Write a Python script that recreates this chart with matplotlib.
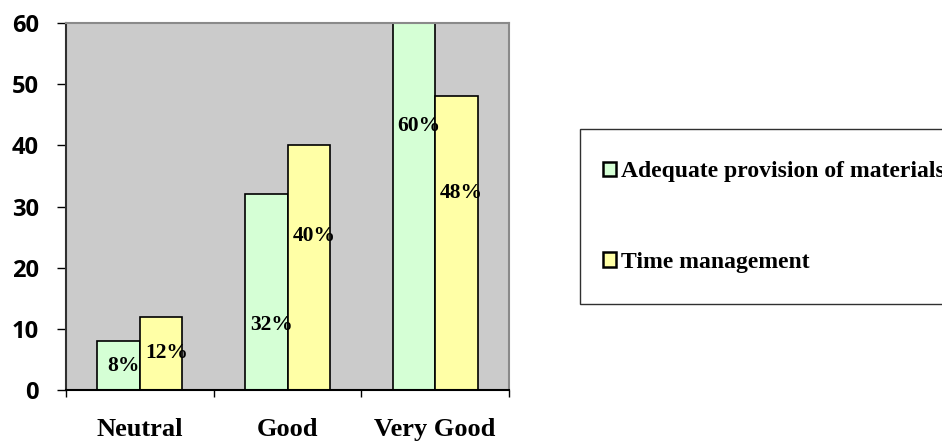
import numpy as np
import matplotlib.pyplot as plt
from matplotlib.patches import Rectangle

categories = ['Neutral', 'Good', 'Very Good']
materials = [8, 32, 60]
time_mgmt = [12, 40, 48]
series_names = ['Adequate provision of materials', 'Time management']
yticks = [0, 10, 20, 30, 40, 50, 60]

# where the percent labels sit inside each bar (fraction of bar height)
label_frac_m = [0.5, 0.33, 0.72]
label_frac_t = [0.5, 0.63, 0.67]

green = '#D5FFD5'
yellow = '#FFFFA6'
serif = 'Liberation Serif'

fig = plt.figure(figsize=[9.42, 4.41], dpi=100)
ax = fig.add_axes([66 / 942, 1 - 390 / 441, (509 - 66) / 942, (390 - 23) / 441])
ax.set_facecolor('#CBCBCB')

x = np.arange(len(categories))
w = 0.288
b1 = ax.bar(x - w / 2, materials, w, color=green, edgecolor='black', linewidth=1.2, label=series_names[0])
b2 = ax.bar(x + w / 2, time_mgmt, w, color=yellow, edgecolor='black', linewidth=1.2, label=series_names[1])

for i in range(len(categories)):
    ax.text(x[i] - w / 2 + 0.035, materials[i] * label_frac_m[i], '%d%%' % materials[i],
            ha='center', va='center', fontsize=15.5, fontweight='bold', family=serif)
    ax.text(x[i] + w / 2 + 0.035, time_mgmt[i] * label_frac_t[i], '%d%%' % time_mgmt[i],
            ha='center', va='center', fontsize=15.5, fontweight='bold', family=serif)

ax.set_xlim(-0.5, 2.5)
ax.set_ylim(0, 60)
ax.set_yticks(yticks)
ax.set_yticklabels([str(v) for v in yticks], fontsize=17, fontweight='bold', family='Open Sans')
ax.tick_params(axis='y', direction='out', length=6.5, width=1, pad=13)

# category boundaries carry the ticks, names sit in between
ax.set_xticks([-0.5, 0.5, 1.5, 2.5])
ax.set_xticklabels([])
ax.set_xticks(x, minor=True)
ax.set_xticklabels(categories, minor=True, fontsize=19, fontweight='bold', family=serif)
ax.tick_params(axis='x', which='major', direction='out', length=5, width=1)
ax.tick_params(axis='x', which='minor', length=0, pad=20)

for s in ['top', 'right']:
    ax.spines[s].set_color('#8A8A8A')
    ax.spines[s].set_linewidth(1.5)
ax.spines['left'].set_color('#303030')
ax.spines['left'].set_linewidth(1.5)
ax.spines['bottom'].set_color('black')
ax.spines['bottom'].set_linewidth(1.5)

# legend frame runs off the right edge
frame = Rectangle((580 / 942, 1 - 304 / 441), 0.5, (304 - 129) / 441, transform=fig.transFigure,
                  facecolor='white', edgecolor='#303030', linewidth=1.0, clip_on=False)
fig.patches.append(frame)
leg = fig.legend(handles=[b1, b2], labels=series_names, loc='center left',
                 bbox_to_anchor=(591 / 942, 1 - 217 / 441), frameon=False, borderpad=0,
                 handlelength=0.55, handleheight=0.55, handletextpad=0.2, labelspacing=2.95,
                 prop={'family': serif, 'weight': 'bold', 'size': 17})
for h in leg.legend_handles:
    h.set_linewidth(1.8)

fig.savefig('out.png', dpi=100)
